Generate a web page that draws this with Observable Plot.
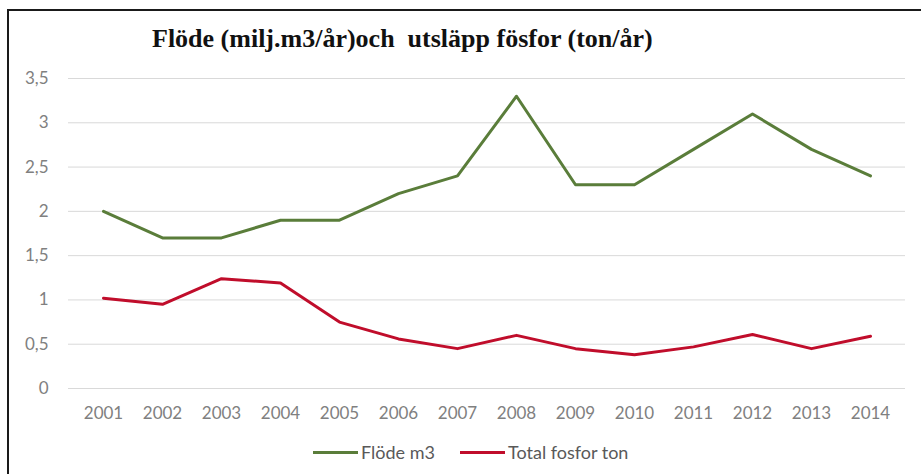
<!DOCTYPE html>
<html>
<head>
<meta charset="utf-8">
<script src="https://cdn.jsdelivr.net/npm/d3@7"></script>
<script src="https://cdn.jsdelivr.net/npm/@observablehq/plot@0.6"></script>
<style>
  html, body { margin: 0; padding: 0; background: #fff; }
  #wrap { position: relative; width: 921px; height: 474px; overflow: hidden; background: #fff; }
  #frame { position: absolute; left: 7px; top: 9px; width: 930px; height: 480px;
           border-top: 2px solid #1a1a1a; border-left: 2px solid #1a1a1a; }
  #title { position: absolute; left: 152px; top: 24px; font-family: "Liberation Serif", "DejaVu Serif", serif;
           font-weight: bold; font-size: 26px; color: #111; white-space: pre; }
  #chart { position: absolute; left: 0; top: 0; }
  #legend { position: absolute; top: 441px; left: 0; width: 921px; font-family: Lato, "Open Sans", sans-serif;
            font-size: 18px; color: #595959; }
  .item { position: absolute; display: flex; align-items: center; white-space: nowrap; }
  .sw { display: inline-block; width: 45px; height: 3px; margin-right: 3px; }
</style>
</head>
<body>
<div id="wrap">
  <div id="frame"></div>
  <div id="chart"></div>
  <div id="title">Flöde (milj.m3/år)och  utsläpp fösfor (ton/år)</div>
  <div id="legend"></div>
</div>
<script>
const years = ["2001","2002","2003","2004","2005","2006","2007","2008","2009","2010","2011","2012","2013","2014"];
const flode = [2.0, 1.7, 1.7, 1.9, 1.9, 2.2, 2.4, 3.3, 2.3, 2.3, 2.7, 3.1, 2.7, 2.4];
const fosfor = [1.02, 0.95, 1.24, 1.19, 0.75, 0.56, 0.45, 0.60, 0.45, 0.38, 0.47, 0.61, 0.45, 0.59];
const yTicks = [0, 0.5, 1, 1.5, 2, 2.5, 3, 3.5];
const seriesNames = ["Flöde m3", "Total fosfor ton"];
const seriesColors = ["#5a7d3a", "#c00d2b"];

const rowsF = years.map((y, i) => ({year: y, value: flode[i], series: seriesNames[0]}));
const rowsP = years.map((y, i) => ({year: y, value: fosfor[i], series: seriesNames[1]}));

const chart = Plot.plot({
  width: 921,
  height: 430,
  marginTop: 78,
  marginBottom: 42,
  marginLeft: 68,
  marginRight: 16,
  x: {type: "point", domain: years, padding: 0.5, label: null},
  y: {domain: [0, 3.5], label: null},
  style: {fontFamily: "Lato, 'Open Sans', sans-serif", fontSize: "17px", color: "#808080", background: "transparent"},
  marks: [
    Plot.gridY(yTicks, {stroke: "#d9d9d9", strokeOpacity: 1, strokeWidth: 1}),
    Plot.axisY(yTicks, {tickSize: 0, tickPadding: 20, label: null, tickFormat: d => String(d).replace(".", ","), fill: "#808080", fontSize: 17}),
    Plot.axisX(years, {tickSize: 0, tickPadding: 18, label: null, fill: "#808080", fontSize: 17}),
    Plot.line(rowsF, {x: "year", y: "value", stroke: seriesColors[0], strokeWidth: 3}),
    Plot.line(rowsP, {x: "year", y: "value", stroke: seriesColors[1], strokeWidth: 3})
  ]
});
document.getElementById("chart").appendChild(chart);

const legend = document.getElementById("legend");
const lefts = [313, 460];
seriesNames.forEach((name, i) => {
  const it = document.createElement("div");
  it.className = "item";
  it.style.left = lefts[i] + "px";
  const sw = document.createElement("span");
  sw.className = "sw";
  sw.style.background = seriesColors[i];
  const tx = document.createElement("span");
  tx.textContent = name;
  it.appendChild(sw);
  it.appendChild(tx);
  legend.appendChild(it);
});
</script>
</body>
</html>
